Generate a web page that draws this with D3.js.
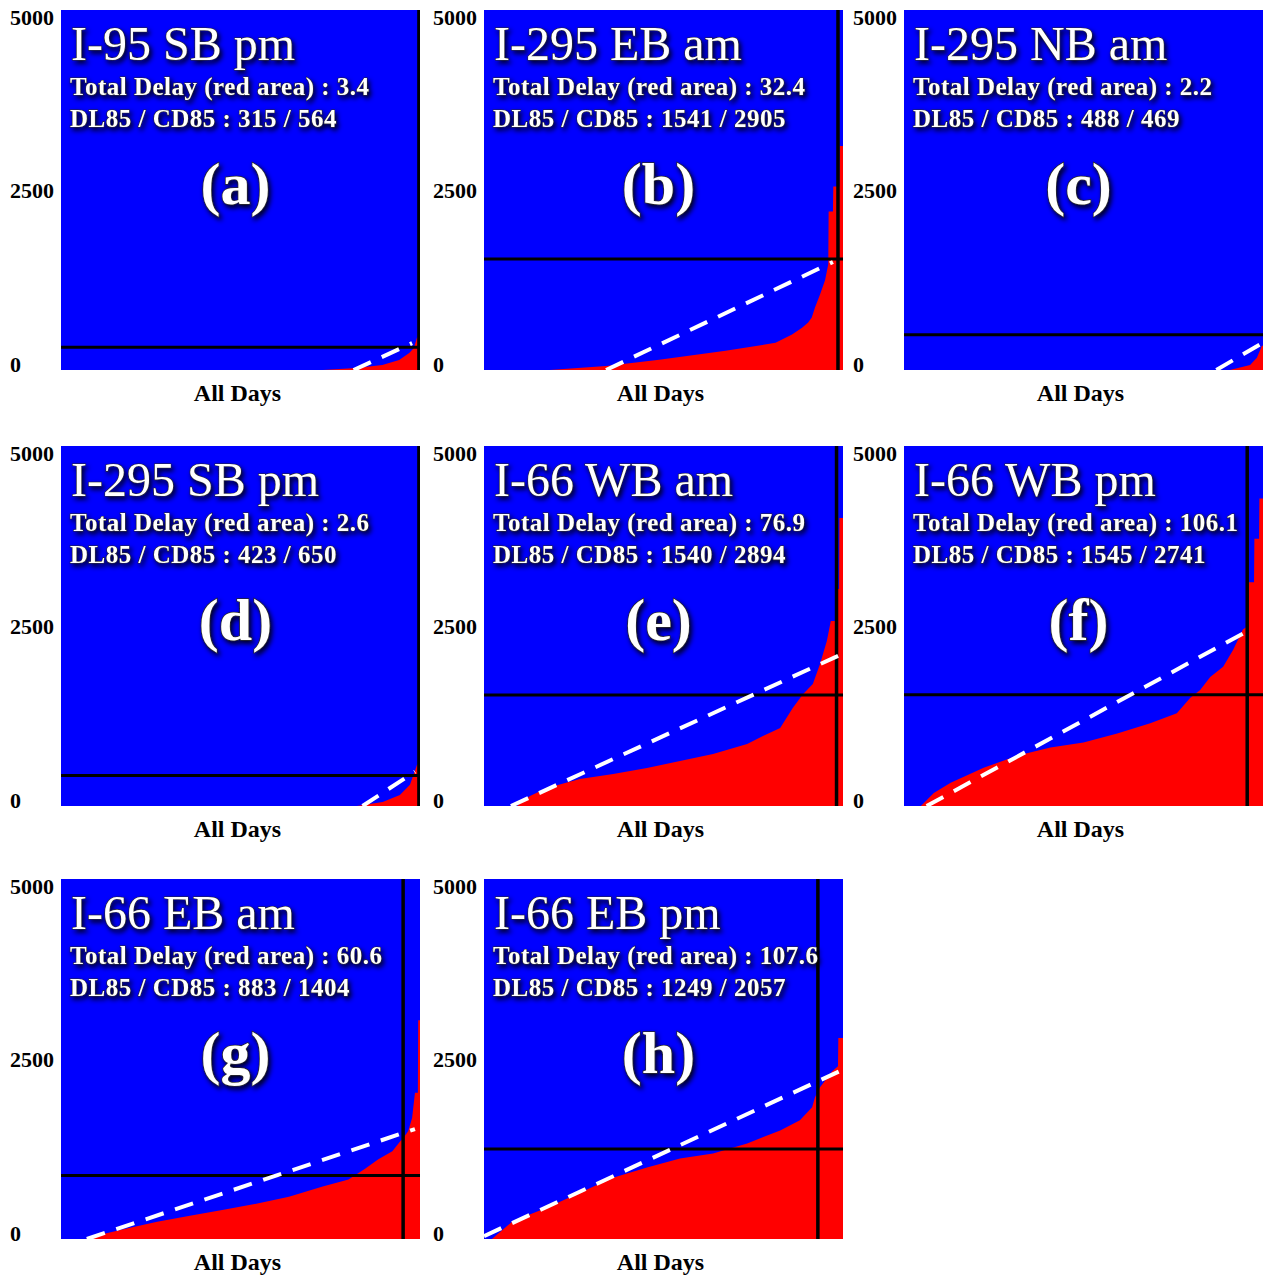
<!DOCTYPE html>
<html lang="en">
<head>
  <meta charset="UTF-8" />
  <script src="https://d3js.org/d3.v7.min.js"></script>
  <title>Delay panels</title>
  <style>
    body { margin: 0; background: #fff; }
    text { font-family: "Liberation Serif", "Times New Roman", serif; }
  </style>
</head>
<body>
<script type="text/javascript">
// panel text
var letters = ["(a)", "(b)", "(c)", "(d)", "(e)", "(f)", "(g)", "(h)"];
var titles = ["I-95 SB pm", "I-295 EB am", "I-295 NB am", "I-295 SB pm",
              "I-66 WB am", "I-66 WB pm", "I-66 EB am", "I-66 EB pm"];
var totalDelay = ["3.4", "32.4", "2.2", "2.6", "76.9", "106.1", "60.6", "107.6"];
var dl85 = [315, 1541, 488, 423, 1540, 1545, 883, 1249];
var cd85 = [564, 2905, 469, 650, 2894, 2741, 1404, 2057];
var yTicks = [0, 2500, 5000];

// vertical marker (percent of days), null = none
var vLine = [99.7, 98.6, null, 99.7, 98.2, 95.6, 95.3, 93];

// white dashed reference: [pct, value] start and end
var dashStart = [[81.5, 0], [34, 0], [87, 0], [84, 0], [7.5, 0], [6.3, 0], [7.2, 0], [0, 40]];
var dashEnd = [[97.8, 373], [97.2, 1500], [100, 380], [98.6, 477],
               [99.7, 2110], [96.4, 2450], [98.6, 1527], [99.7, 2346]];

// sorted delay curves: [percent of days, delay]
var delayA = [[0,0],[72.9,0],[82.3,28],[89.5,69],[94.2,138],[97,235],[98.3,304],[99.2,456],[100,456]];
var delayB = [[0,0],[18.3,0],[34,56],[48.8,144],[67.3,266],[81.2,378],[85.8,494],[88.6,588],[90.3,658],
              [91.3,728],[92.2,868],[93.6,1050],[95,1246],[95.9,1470],[96,2200],[97.2,2200],[97.3,2550],
              [99,2550],[99.1,3110],[100,3110]];
var delayC = [[0,0],[90.8,0],[96.4,70],[98.3,169],[99.7,337],[100,337]];
var delayD = [[0,0],[82.4,0],[89.6,56],[94.4,154],[97.2,295],[99.2,576],[100,576]];
var delayE = [[0,0],[9.2,0],[12.8,139],[17.5,250],[26.7,375],[36,444],[45.4,528],[54.6,625],[63.8,722],
              [73.3,861],[77.7,972],[82.5,1083],[86,1361],[88.9,1555],[91.6,1694],[93.6,1972],[95.5,2290],
              [96.6,2570],[97.9,2570],[98,3014],[98.9,3014],[99,4000],[100,4000]];
var delayF = [[0,0],[4.7,0],[8.3,182],[13,322],[22.2,532],[31.7,700],[40.8,812],[50,882],[59.4,1008],
              [68.6,1148],[76,1289],[79.7,1499],[82.5,1611],[85.3,1793],[88.9,1933],[91.7,2171],[94.4,2451],
              [95.8,2500],[96,3109],[97.5,3109],[97.6,3711],[98.9,3711],[99,4271],[100,4271]];
var delayG = [[0,0],[6.9,0],[10,50],[17.7,140],[26.8,238],[35.9,322],[45.3,406],[54.4,490],[63.5,588],
              [72.9,728],[80.1,826],[84.8,980],[88.4,1106],[92.3,1218],[94.5,1358],[95.3,1400],[96.7,1498],
              [97.8,1680],[98.6,2030],[99.4,2030],[99.5,3039],[100,3039]];
var delayH = [[0,0],[2.2,0],[8.1,251],[17.5,433],[26.7,642],[35.9,852],[45.4,992],[54.6,1117],[63.8,1187],
              [73.3,1327],[82.5,1508],[88,1648],[91.4,1830],[92.2,1969],[93.5,2100],[97,2330],[98.6,2400],
              [98.7,2790],[100,2790]];
var delays = [delayA, delayB, delayC, delayD, delayE, delayF, delayG, delayH];

var W = 1264, H = 1278;
var colLeft = [61, 484, 904], rowTop = [10, 446, 879];
var pw = 359, ph = 360;

var svg = d3.select("body").append("svg").attr("width", W).attr("height", H);

var defs = svg.append("defs");
var f = defs.append("filter").attr("id", "shadow")
  .attr("x", "-20%").attr("y", "-30%").attr("width", "140%").attr("height", "180%");
f.append("feDropShadow").attr("dx", 2).attr("dy", 3).attr("stdDeviation", 2.5)
  .attr("flood-color", "#000").attr("flood-opacity", 0.9);

letters.forEach(function(lab, i) {
  var left = colLeft[i % 3], top = rowTop[Math.floor(i / 3)];
  var x = d3.scaleLinear().domain([0, 100]).range([left, left + pw]);
  var y = d3.scaleLinear().domain([0, 5000]).range([top + ph, top]);
  // labels sit slightly inside the plot edges
  var yLab = d3.scaleLinear().domain([0, 5000]).range([top + ph - 6, top + 7]);

  var g = svg.append("g");
  defs.append("clipPath").attr("id", "clip" + i)
    .append("rect").attr("x", left).attr("y", top).attr("width", pw).attr("height", ph);

  g.append("rect").attr("x", left).attr("y", top).attr("width", pw).attr("height", ph)
    .attr("fill", "#0000ff");

  var area = d3.area().x(function(d) { return x(d[0]); })
    .y0(y(0)).y1(function(d) { return y(d[1]); });
  var plot = g.append("g").attr("clip-path", "url(#clip" + i + ")");
  plot.append("path").datum(delays[i]).attr("d", area).attr("fill", "#ff0000");

  // DL85 line
  plot.append("line").attr("x1", x(0)).attr("x2", x(100))
    .attr("y1", y(dl85[i])).attr("y2", y(dl85[i]))
    .attr("stroke", "#000").attr("stroke-width", 3);
  if (vLine[i] !== null) {
    plot.append("line").attr("x1", x(vLine[i])).attr("x2", x(vLine[i]))
      .attr("y1", y(0)).attr("y2", y(5000))
      .attr("stroke", "#000").attr("stroke-width", 3.5);
  }
  plot.append("line")
    .attr("x1", x(dashStart[i][0])).attr("y1", y(dashStart[i][1]))
    .attr("x2", x(dashEnd[i][0])).attr("y2", y(dashEnd[i][1]))
    .attr("stroke", "#fff").attr("stroke-width", 4).attr("stroke-dasharray", "19,12");

  // y axis labels
  var ax = g.append("g").attr("transform", "translate(" + left + ",0)")
    .call(d3.axisLeft(yLab).tickValues(yTicks).tickSize(0).tickFormat(d3.format("d")));
  ax.select(".domain").remove();
  ax.selectAll("text").attr("x", -51).attr("text-anchor", "start")
    .attr("font-family", "Liberation Serif").attr("font-weight", "bold")
    .attr("font-size", 22).attr("fill", "#000");

  g.append("text").attr("x", (x(0) + x(100)) / 2 - 3).attr("y", top + ph + 31)
    .attr("text-anchor", "middle").attr("font-weight", "bold").attr("font-size", 24)
    .attr("fill", "#000").text("All Days");

  var txt = g.append("g").attr("fill", "#fff").attr("stroke", "#2a2a2a")
    .attr("paint-order", "stroke").attr("filter", "url(#shadow)");
  txt.append("text").attr("x", left + 10).attr("y", top + 50)
    .attr("font-size", 48).attr("stroke-width", 1.2).text(titles[i]);
  txt.append("text").attr("x", left + 9).attr("y", top + 85)
    .attr("font-size", 25).attr("font-weight", "bold").attr("letter-spacing", 0.5)
    .attr("stroke-width", 1.2).text("Total Delay (red area) : " + totalDelay[i]);
  txt.append("text").attr("x", left + 9).attr("y", top + 117)
    .attr("font-size", 25).attr("font-weight", "bold").attr("letter-spacing", 0.5)
    .attr("stroke-width", 1.2).text("DL85 / CD85 : " + dl85[i] + " / " + cd85[i]);
  txt.append("text").attr("x", (x(0) + x(100)) / 2 - 5).attr("y", top + 194)
    .attr("text-anchor", "middle").attr("font-size", 60).attr("font-weight", "bold")
    .attr("stroke-width", 1.5).text(lab);
});
</script>
</body>
</html>
